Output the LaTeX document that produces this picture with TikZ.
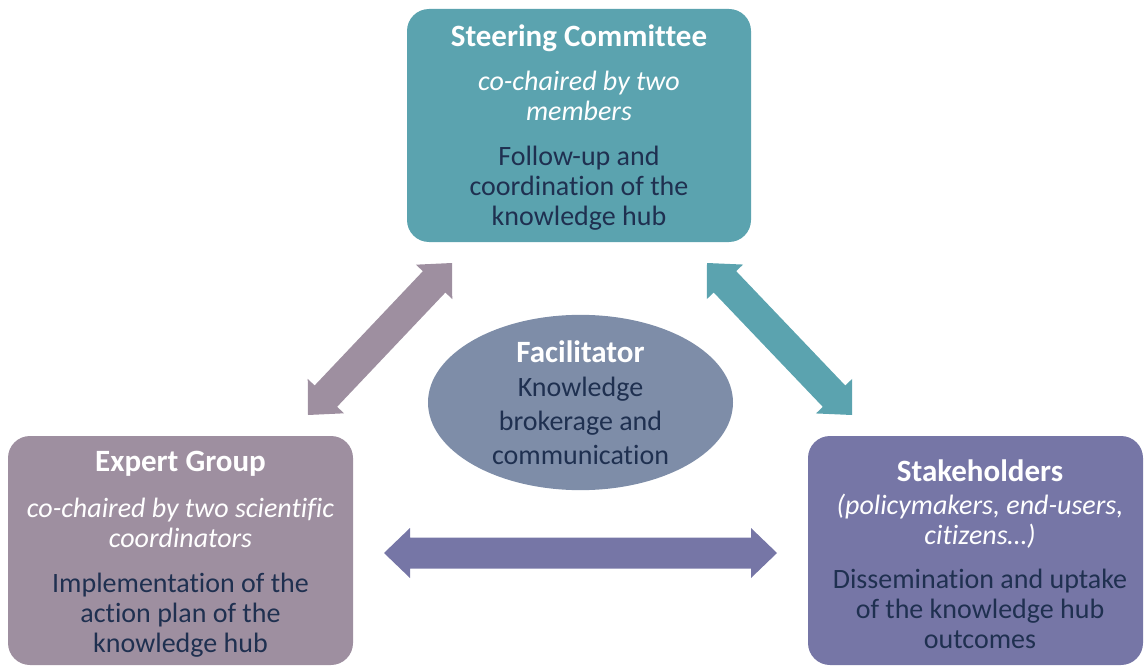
\documentclass[tikz,border=0pt]{standalone}
\usepackage{fontspec}
\setmainfont[Ligatures=NoCommon]{Carlito}
\usetikzlibrary{calc,shapes.geometric}
\definecolor{steer}{HTML}{5BA3AF}
\definecolor{expert}{HTML}{9E8FA0}
\definecolor{stake}{HTML}{7676A6}
\definecolor{facil}{HTML}{7E8DA8}
\definecolor{navy}{HTML}{1F3050}
\newcommand{\hl}{26pt}
\newcommand{\hw}{25pt}
\newcommand{\sw}{15.5pt}
\newcommand{\twoway}[3]{%
\fill[#1] (#2) -- ($(#2)!\hl!(#3)!\hw!90:(#3)$) -- ($(#2)!\hl!(#3)!\sw!90:(#3)$)
 -- ($(#3)!\hl!(#2)!\sw!-90:(#2)$) -- ($(#3)!\hl!(#2)!\hw!-90:(#2)$) -- (#3)
 -- ($(#3)!\hl!(#2)!\hw!90:(#2)$) -- ($(#3)!\hl!(#2)!\sw!90:(#2)$)
 -- ($(#2)!\hl!(#3)!\sw!-90:(#3)$) -- ($(#2)!\hl!(#3)!\hw!-90:(#3)$) -- cycle;}
\tikzset{
  box/.style={rounded corners=22pt, inner sep=0pt},
  boxtext/.style={inner sep=0pt, align=center, text=navy,
    font=\fontsize{28}{30}\selectfont},
}
\newcommand{\ttl}[1]{{\color{white}\bfseries\fontsize{31}{30}\selectfont #1}}
\newcommand{\sub}[1]{{\color{white}\itshape #1}}
\begin{document}
\begin{tikzpicture}[x=1pt,y=-1pt]
\useasboundingbox (0,0) rectangle (1144,666);
\node[box, fill=steer, minimum width=344pt, minimum height=233pt] (sc) at (579,125.5) {};
\node[boxtext] (sct) at ($(sc.center)+(0,2.5)$)
 {\ttl{Steering Committee}\\[14pt]
  \sub{co-chaired by two}\\ \sub{members}\\[15pt]
  Follow-up and\\ coordination of the\\ knowledge hub};
\node[box, fill=expert, minimum width=345pt, minimum height=229pt] (eg) at (180.5,550.5) {};
\node[boxtext] (egt) at ($(eg.center)+(0,4)$)
 {\ttl{Expert Group}\\[16pt]
  \sub{co-chaired by two scientific}\\ \sub{coordinators}\\[15pt]
  Implementation of the\\ action plan of the\\ knowledge hub};
\node[box, fill=stake, minimum width=335pt, minimum height=229pt] (st) at (975.5,550.5) {};
\node[boxtext] (stt) at ($(st.center)+(4.5,4)$)
 {\ttl{Stakeholders}\\[3pt]
  \sub{(policymakers, end-users,}\\ \sub{citizens…)}\\[14pt]
  Dissemination and uptake\\ of the knowledge hub\\ outcomes};
\node[ellipse, fill=facil, minimum width=305pt, minimum height=171pt, inner sep=0pt,
  align=center, text=navy, font=\fontsize{28}{34}\selectfont] (fa) at (580.5,402.5)
 {\ttl{Facilitator}\\ Knowledge\\ brokerage and\\ communication};
\coordinate (l1) at (308,415);
\coordinate (l2) at (452,263);
\coordinate (r1) at (707,263);
\coordinate (r2) at (852,415);
\coordinate (h1) at (384,553);
\coordinate (h2) at (777,553);
\twoway{expert}{l1}{l2}
\twoway{steer}{r1}{r2}
\twoway{stake}{h1}{h2}
\end{tikzpicture}
\end{document}
